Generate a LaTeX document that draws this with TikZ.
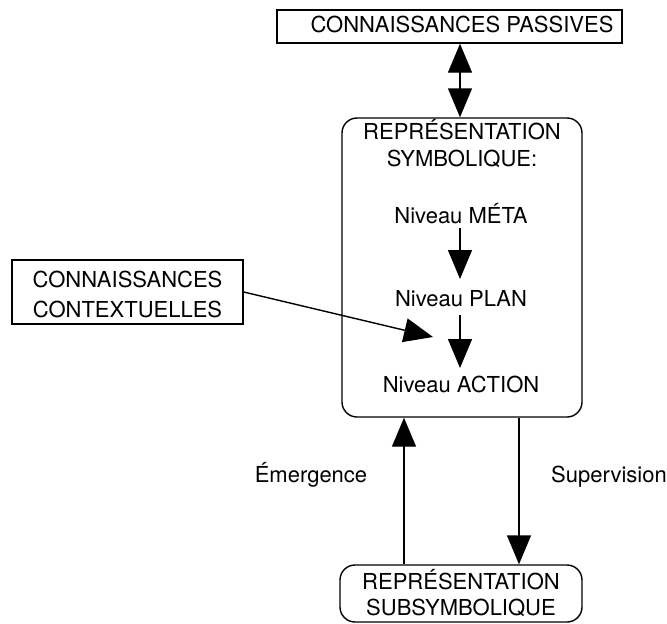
\documentclass[tikz,border=0pt]{standalone}
\usepackage{fontspec}
\setmainfont{TeX Gyre Heros}
\usetikzlibrary{arrows.meta}
\begin{document}
\begin{tikzpicture}[x=1pt,y=-1pt,
  box/.style={draw, line width=1.4pt, inner sep=0pt},
  rbox/.style={box, rounded corners=15pt},
  txt/.style={inner sep=0pt, anchor=base, font=\fontsize{22}{26}\selectfont},
  arr/.style={line width=1.4pt, -{Triangle[length=29pt,width=24pt]}},
  darr/.style={line width=1.4pt, {Triangle[length=29pt,width=24pt]}-{Triangle[length=29pt,width=24pt]}},
]
\useasboundingbox (0,0) rectangle (667,624);

% boxes
\node[box, minimum width=345pt, minimum height=33pt] (cp) at (449.5,26.5) {};
\node[rbox, minimum width=240pt, minimum height=299pt] (sym) at (462,267.5) {};
\node[box, minimum width=231pt, minimum height=64pt] (ctx) at (127.5,292) {};
\node[rbox, minimum width=242pt, minimum height=57pt] (sub) at (461,593.5) {};

% texts
\node[txt] (cpt) at (462,32) {CONNAISSANCES PASSIVES};
\node[txt] (sym1) at (462,139) {REPRÉSENTATION};
\node[txt] (sym2) at (462,166) {SYMBOLIQUE:};
\node[txt] (meta) at (461,223) {Niveau MÉTA};
\node[txt] (plan) at (461,306) {Niveau PLAN};
\node[txt] (action) at (461,392) {Niveau ACTION};
\node[txt] (ctx1) at (127.5,287) {CONNAISSANCES};
\node[txt] (ctx2) at (127.5,317) {CONTEXTUELLES};
\node[txt] (sub1) at (461,589) {REPRÉSENTATION};
\node[txt] (sub2) at (461,615) {SUBSYMBOLIQUE};
\node[txt] (em) at (311,482) {Émergence};
\node[txt] (sup) at (609,482) {Supervision};

% helper coordinates
\coordinate (ctxtip) at (433,337);
\coordinate (emx) at (404,0);
\coordinate (supx) at (519,0);
\coordinate (ax) at (460,0);

% connectors
\draw[darr] (sym.north -| ax) -- (cp.south -| ax);
\draw[arr] ([yshift=-5pt]meta.base -| ax) -- ([yshift=-56pt]meta.base -| ax);
\draw[arr] ([yshift=-9pt]plan.base -| ax) -- ([yshift=-62pt]plan.base -| ax);
\draw[arr] (ctx.east) -- (ctxtip);
\draw[arr] (sub.north -| emx) -- (sym.south -| emx);
\draw[arr] (sym.south -| supx) -- (sub.north -| supx);
\end{tikzpicture}
\end{document}
